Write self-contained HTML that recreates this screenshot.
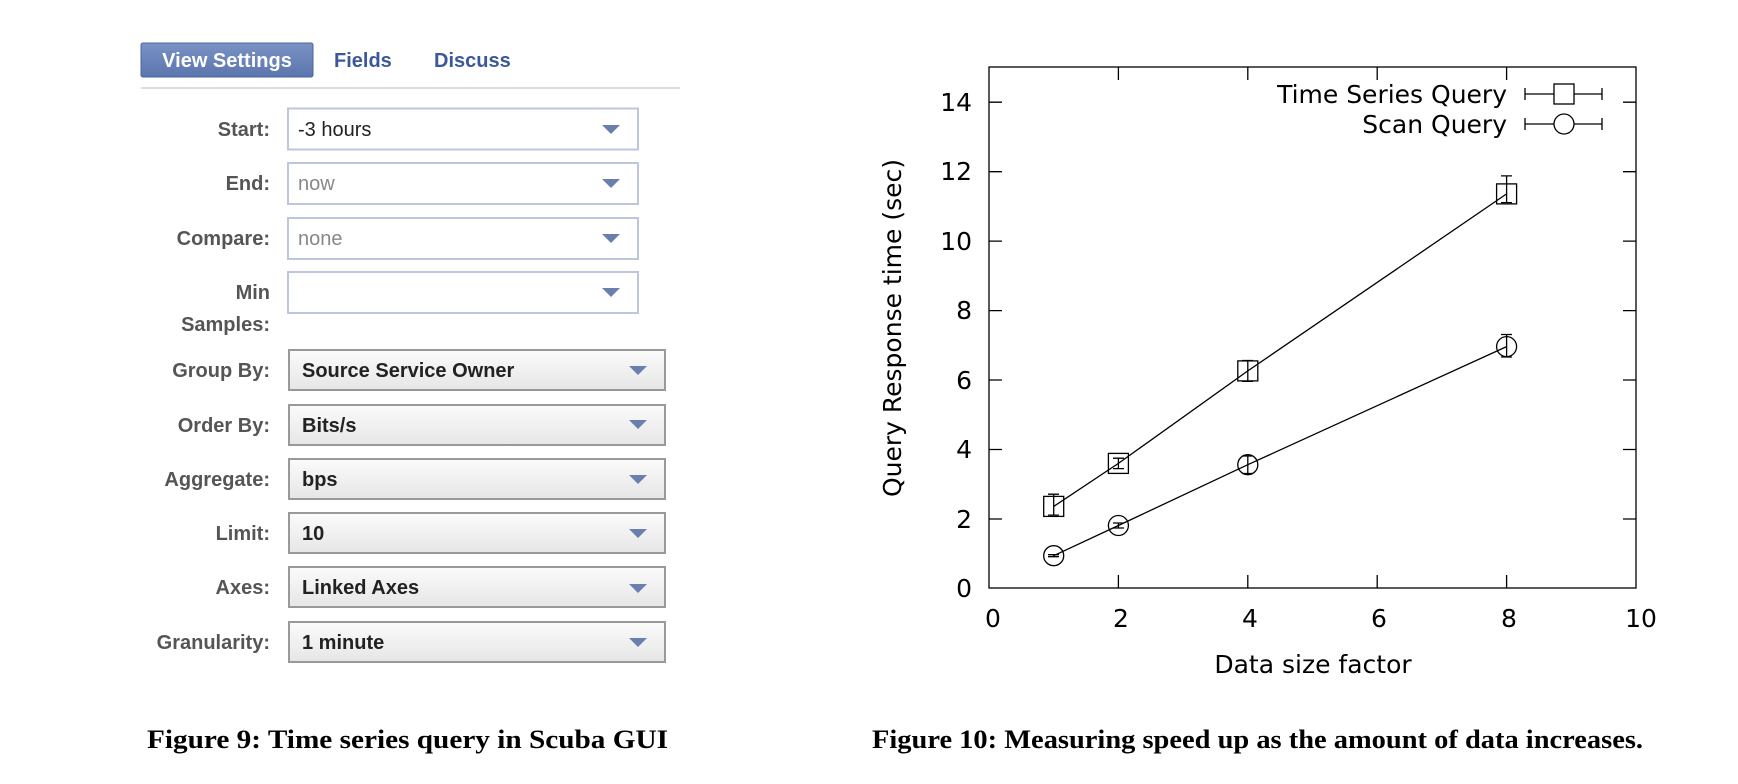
<!DOCTYPE html>
<html><head><meta charset="utf-8"><style>
html,body{margin:0;padding:0;background:#fff;}
svg{display:block;}
.lab{font-family:"Liberation Sans",sans-serif;font-weight:bold;font-size:20px;fill:#555;text-anchor:end;}
.val{font-family:"Liberation Sans",sans-serif;font-size:20px;fill:#222;}
.g{font-family:"DejaVu Sans",sans-serif;font-size:25px;fill:#000;}
.cap{font-family:"Liberation Serif",serif;font-weight:bold;font-size:26px;fill:#000;}
</style></head><body>
<svg width="1738" height="784" viewBox="0 0 1738 784" xmlns="http://www.w3.org/2000/svg">
<defs>
<linearGradient id="gr" x1="0" y1="0" x2="0" y2="1"><stop offset="0" stop-color="#fbfbfb"/><stop offset="1" stop-color="#e6e6e6"/></linearGradient>
<linearGradient id="bt" x1="0" y1="0" x2="0" y2="1"><stop offset="0" stop-color="#7a92c4"/><stop offset="1" stop-color="#5b75ae"/></linearGradient>
</defs>
<rect x="141" y="43" width="172" height="34" rx="2" fill="url(#bt)" stroke="#4a64a0"/>
<text x="227" y="67" text-anchor="middle" font-family="Liberation Sans,sans-serif" font-weight="bold" font-size="20" fill="#fff">View Settings</text>
<text x="334" y="67" font-family="Liberation Sans,sans-serif" font-weight="bold" font-size="20" fill="#3b5998">Fields</text>
<text x="434" y="67" font-family="Liberation Sans,sans-serif" font-weight="bold" font-size="20" fill="#3b5998">Discuss</text>
<line x1="141" y1="88" x2="680" y2="88" stroke="#ddd" stroke-width="2"/>
<g>
<rect x="288" y="108.5" width="350" height="41" fill="#fff" stroke="#bcc6dc" stroke-width="2"/>
<text class="lab" x="270" y="136">Start:</text><text class="val" x="298" y="136">-3 hours</text>
<polygon points="602,125 620,125 611,134" fill="#6a7fae"/>
<rect x="288" y="163" width="350" height="41" fill="#fff" stroke="#bcc6dc" stroke-width="2"/>
<text class="lab" x="270" y="190">End:</text><text class="val" x="298" y="190" style="fill:#888">now</text>
<polygon points="602,179 620,179 611,188" fill="#6a7fae"/>
<rect x="288" y="218" width="350" height="41" fill="#fff" stroke="#bcc6dc" stroke-width="2"/>
<text class="lab" x="270" y="245">Compare:</text><text class="val" x="298" y="245" style="fill:#888">none</text>
<polygon points="602,234 620,234 611,243" fill="#6a7fae"/>
<rect x="288" y="272" width="350" height="41" fill="#fff" stroke="#bcc6dc" stroke-width="2"/>
<text class="lab" x="270" y="299">Min</text><text class="lab" x="270" y="331">Samples:</text>
<polygon points="602,288 620,288 611,297" fill="#6a7fae"/>
</g>
<g>
<rect x="289" y="350" width="376" height="40" fill="url(#gr)" stroke="#999" stroke-width="2"/>
<text class="lab" x="270" y="377">Group By:</text><text class="val" x="302" y="377" font-weight="bold">Source Service Owner</text>
<polygon points="629,366 647,366 638,375" fill="#6a7fae"/>
<rect x="289" y="405" width="376" height="40" fill="url(#gr)" stroke="#999" stroke-width="2"/>
<text class="lab" x="270" y="432">Order By:</text><text class="val" x="302" y="432" font-weight="bold">Bits/s</text>
<polygon points="629,420 647,420 638,429" fill="#6a7fae"/>
<rect x="289" y="459" width="376" height="40" fill="url(#gr)" stroke="#999" stroke-width="2"/>
<text class="lab" x="270" y="486">Aggregate:</text><text class="val" x="302" y="486" font-weight="bold">bps</text>
<polygon points="629,475 647,475 638,484" fill="#6a7fae"/>
<rect x="289" y="513" width="376" height="40" fill="url(#gr)" stroke="#999" stroke-width="2"/>
<text class="lab" x="270" y="540">Limit:</text><text class="val" x="302" y="540" font-weight="bold">10</text>
<polygon points="629,529 647,529 638,538" fill="#6a7fae"/>
<rect x="289" y="567" width="376" height="40" fill="url(#gr)" stroke="#999" stroke-width="2"/>
<text class="lab" x="270" y="594">Axes:</text><text class="val" x="302" y="594" font-weight="bold">Linked Axes</text>
<polygon points="629,584 647,584 638,593" fill="#6a7fae"/>
<rect x="289" y="622" width="376" height="40" fill="url(#gr)" stroke="#999" stroke-width="2"/>
<text class="lab" x="270" y="649">Granularity:</text><text class="val" x="302" y="649" font-weight="bold">1 minute</text>
<polygon points="629,638 647,638 638,647" fill="#6a7fae"/>
</g>
<text class="cap" x="147" y="748" textLength="521" lengthAdjust="spacingAndGlyphs">Figure 9: Time series query in Scuba GUI</text>
<text class="cap" x="872" y="748" textLength="771" lengthAdjust="spacingAndGlyphs">Figure 10: Measuring speed up as the amount of data increases.</text>

<g stroke="#000" stroke-width="1.3" fill="none">
<rect x="989" y="67" width="647" height="521"/>
<path d="M989 519h13M1636 519h-13 M989 449.5h13M1636 449.5h-13 M989 380h13M1636 380h-13 M989 310.6h13M1636 310.6h-13 M989 241.1h13M1636 241.1h-13 M989 171.7h13M1636 171.7h-13 M989 102.2h13M1636 102.2h-13"/>
<path d="M1118.4 588v-13M1118.4 67v13 M1247.8 588v-13M1247.8 67v13 M1377.2 588v-13M1377.2 67v13 M1506.6 588v-13M1506.6 67v13"/>
<polyline points="1053.7,506.4 1118.4,463.4 1247.8,370.9 1506.6,193.9"/>
<polyline points="1053.7,555.7 1118.4,525.5 1247.8,464.7 1506.6,346.6"/>
<path d="M1053.7 515.1V494.2M1048 515.1h11M1048 494.2h11"/>
<path d="M1118.4 468.6V458.2M1113 468.6h11M1113 458.2h11"/>
<path d="M1247.8 381.3V360.5M1242 381.3h11M1242 360.5h11"/>
<path d="M1506.6 202.6V175.9M1501 202.6h11M1501 175.9h11"/>
<path d="M1053.7 556.7V554.7M1048 556.7h11M1048 554.7h11"/>
<path d="M1118.4 528V523M1113 528h11M1113 523h11"/>
<path d="M1247.8 473.5V456M1242 473.5h11M1242 456h11"/>
<path d="M1506.6 357V334.5M1501 357h11M1501 334.5h11"/>
<rect x="1043.7" y="496.4" width="20" height="20"/>
<rect x="1108.4" y="453.4" width="20" height="20"/>
<rect x="1237.8" y="360.9" width="20" height="20"/>
<rect x="1496.6" y="183.9" width="20" height="20"/>
<circle cx="1053.7" cy="555.7" r="10"/>
<circle cx="1118.4" cy="525.5" r="10"/>
<circle cx="1247.8" cy="464.7" r="10"/>
<circle cx="1506.6" cy="346.6" r="10"/>
<path d="M1525 94h77M1525 88v12M1602 88v12"/>
<rect x="1554" y="84" width="20" height="20" fill="#fff"/>
<path d="M1525 124h77M1525 118v12M1602 118v12"/>
<circle cx="1564" cy="124" r="10" fill="#fff"/>
</g>
<g class="g" text-anchor="end">
<text x="972" y="597">0</text><text x="972" y="528">2</text><text x="972" y="458">4</text><text x="972" y="389">6</text><text x="972" y="319">8</text><text x="972" y="250">10</text><text x="972" y="180">12</text><text x="972" y="111">14</text>
<text x="1507" y="103">Time Series Query</text>
<text x="1507" y="133">Scan Query</text>
</g>
<g class="g" text-anchor="middle">
<text x="993" y="627">0</text><text x="1121" y="627">2</text><text x="1250" y="627">4</text><text x="1379" y="627">6</text><text x="1509" y="627">8</text><text x="1641" y="627">10</text>
<text x="1313" y="673">Data size factor</text>
<text transform="translate(901,328) rotate(-90)">Query Response time (sec)</text>
</g>
</svg>
</body></html>
